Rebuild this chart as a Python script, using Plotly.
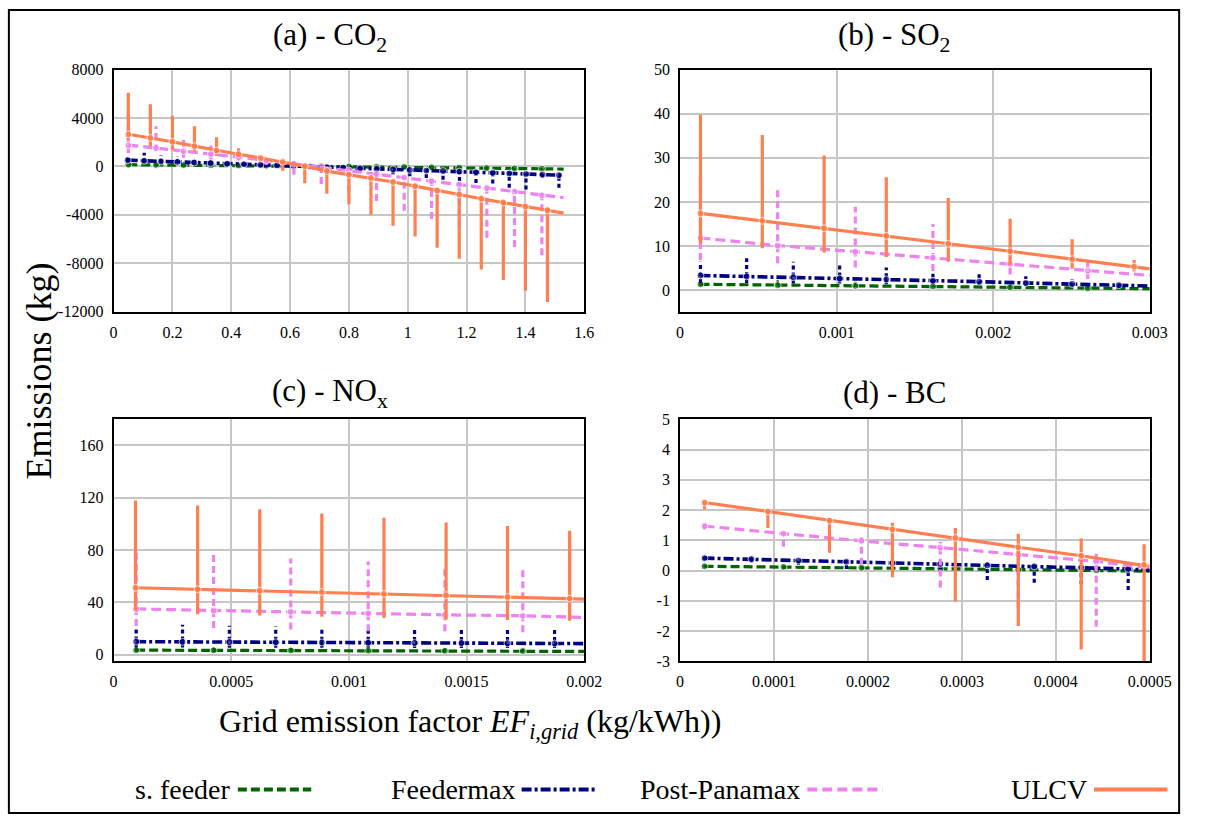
import plotly.graph_objects as go

W, H = 1207, 825
FONT = "Liberation Serif, Times New Roman, serif"

# ---------------- data ----------------
SERIES = ["s. feeder", "Feedermax", "Post-Panamax", "ULCV"]

# (a) CO2
A_X_TICKS = [0, 0.2, 0.4, 0.6, 0.8, 1.0, 1.2, 1.4, 1.6]
A_X_LABELS = ["0", "0.2", "0.4", "0.6", "0.8", "1", "1.2", "1.4", "1.6"]
A_Y_TICKS = [-12000, -8000, -4000, 0, 4000, 8000]
A_Y_LABELS = ["-12000", "-8000", "-4000", "0", "4000", "8000"]
A_X_END = 1.53

A_SF_X = [0.05, 0.144, 0.238, 0.331, 0.425, 0.519, 0.613, 0.706, 0.8, 0.894, 0.988, 1.081, 1.175, 1.269, 1.363, 1.456]
A_SF_Y = [150, 130, 115, 100, 85, 65, 45, 25, 0, -20, -45, -70, -100, -130, -160, -190]
A_SF_HI = [280, 250, 220, 190, 160, 120, 90, 60, 40, 10, -10, -30, -60, -90, -120, -150]
A_SF_LO = [90, 80, 70, 60, 50, 30, 10, -20, -60, -100, -140, -180, -220, -260, -300, -340]
A_SF_END = -220

A_FM_X = [0.048, 0.104, 0.161, 0.217, 0.274, 0.33, 0.386, 0.443, 0.499, 0.556, 0.612, 0.668, 0.725, 0.781,
          0.838, 0.894, 0.95, 1.007, 1.063, 1.12, 1.176, 1.232, 1.289, 1.345, 1.402, 1.458, 1.514]
A_FM_Y = [520, 470, 420, 375, 325, 280, 230, 185, 135, 90, 40, -5, -55, -100, -150, -195, -245, -290, -340,
          -385, -435, -480, -530, -575, -625, -670, -720]
A_FM_HI = [870, 1140, 930, 870, 600, 500, 380, 300, 230, 160, 100, 50, 0, -50, -100, -150, -200, -250, -290,
           -340, -380, -430, -480, -520, -570, -610, -660]
A_FM_LO = [380, 330, 300, 260, 220, 180, 140, 90, 40, 0, -50, -110, -200, -300, -450, -500, -650, -800, -950,
           -1100, -1200, -1360, -1400, -1770, -1900, -950, -1770]
A_FM_END = -734

A_PP_X = [0.05, 0.144, 0.238, 0.331, 0.425, 0.519, 0.613, 0.706, 0.8, 0.894, 0.988, 1.081, 1.175, 1.269, 1.363, 1.456]
A_PP_Y = [1770, 1530, 1270, 1030, 770, 500, 230, -50, -330, -640, -930, -1210, -1490, -1790, -2090, -2380]
A_PP_HI = [4300, 3320, 2560, 1740, 1100, 700, 420, 150, -150, -450, -720, -1000, -1280, -1560, -1850, -2130]
A_PP_LO = [1100, 1280, 730, 600, 430, 150, -680, -1440, -2150, -2860, -3670, -4350, -5030, -5900, -6660, -7340]
A_PP_END = -2584

A_UL_X = [0.05, 0.125, 0.2, 0.275, 0.35, 0.425, 0.5, 0.575, 0.65, 0.725, 0.8, 0.875, 0.95, 1.025, 1.1, 1.175,
          1.25, 1.325, 1.4, 1.475]
A_UL_Y = [2660, 2360, 2040, 1680, 1320, 1010, 700, 390, 20, -380, -680, -950, -1280, -1630, -1990, -2310,
          -2670, -2990, -3320, -3620]
A_UL_HI = [6090, 5140, 4190, 3320, 2420, 1500, 870, 520, 270, -100, -400, -700, -1030, -1380, -1740, -2060,
           -2420, -2740, -3070, -3370]
A_UL_LO = [2230, 1690, 1410, 1280, 870, 700, 400, -350, -1390, -2260, -3130, -4000, -4900, -5790, -6720, -7620,
           -8510, -9380, -10280, -11210]
A_UL_END = -3860

# (b) SO2
B_X_TICKS = [0, 0.001, 0.002, 0.003]
B_X_LABELS = ["0", "0.001", "0.002", "0.003"]
B_Y_TICKS = [0, 10, 20, 30, 40, 50]
B_Y_LABELS = ["0", "10", "20", "30", "40", "50"]
B_X_END = 0.003

B_SF_X = [0.00013, 0.000623, 0.001119, 0.001615, 0.002108, 0.002604]
B_SF_Y = [1.3, 1.1, 0.95, 0.8, 0.6, 0.4]
B_SF_HI = [2.3, 2.2, 1.9, 1.6, 1.3, 1.0]
B_SF_LO = [0.9, 0.8, 0.7, 0.5, 0.3, 0.2]
B_SF_END = 0.3

B_FM_X = [0.00013, 0.000425, 0.000723, 0.001019, 0.001317, 0.001615, 0.00191, 0.002208, 0.002504, 0.002802]
B_FM_Y = [3.3, 3.1, 2.9, 2.6, 2.4, 2.1, 1.9, 1.6, 1.4, 1.1]
B_FM_HI = [6.4, 7.2, 6.4, 5.9, 5.1, 4.2, 3.9, 3.1, 2.4, 1.6]
B_FM_LO = [1.6, 1.6, 1.5, 1.5, 1.3, 1.2, 1.1, 0.9, 0.7, 0.4]
B_FM_END = 0.9

B_PP_X = [0.00013, 0.000623, 0.001119, 0.001615, 0.002108, 0.002604]
B_PP_Y = [11.8, 10.1, 8.7, 7.3, 5.9, 4.4]
B_PP_HI = [26.8, 22.7, 18.9, 15.0, 11.0, 6.8]
B_PP_LO = [6.8, 6.1, 5.1, 4.3, 3.5, 2.5]
B_PP_END = 3.3

B_UL_X = [0.00013, 0.000525, 0.00092, 0.001317, 0.001713, 0.002108, 0.002504, 0.0029]
B_UL_Y = [17.4, 15.7, 14.0, 12.3, 10.5, 8.8, 7.0, 5.3]
B_UL_HI = [39.8, 35.2, 30.5, 25.6, 20.9, 16.2, 11.5, 6.8]
B_UL_LO = [10.5, 9.5, 8.5, 7.5, 6.4, 5.7, 4.8, 4.2]
B_UL_END = 4.8

# (c) NOx
C_X_TICKS = [0, 0.0005, 0.001, 0.0015, 0.002]
C_X_LABELS = ["0", "0.0005", "0.001", "0.0015", "0.002"]
C_Y_TICKS = [0, 40, 80, 120, 160]
C_Y_LABELS = ["0", "40", "80", "120", "160"]
C_X_END = 0.002

C_SF_X = [0.000096, 0.000425, 0.000753, 0.001082, 0.001408, 0.001739]
C_SF_Y = [3.5, 3.4, 3.3, 3.1, 3.0, 2.8]
C_SF_HI = [5.5, 5.3, 5.2, 5.0, 4.8, 4.6]
C_SF_LO = [2.2, 2.1, 2.0, 1.9, 1.8, 1.7]
C_SF_END = 2.5

C_FM_X = [0.000096, 0.000293, 0.000492, 0.000689, 0.000885, 0.001082, 0.001279, 0.001478, 0.001674, 0.001874]
C_FM_Y = [10.0, 9.8, 9.7, 9.5, 9.4, 9.2, 9.0, 8.9, 8.7, 8.6]
C_FM_HI = [20.5, 23.0, 22.2, 21.8, 21.2, 21.0, 20.5, 20.0, 19.8, 19.2]
C_FM_LO = [5.5, 5.5, 5.4, 5.4, 5.3, 5.3, 5.2, 5.2, 5.1, 5.1]
C_FM_END = 8.5

C_PP_X = [0.000096, 0.000425, 0.000753, 0.001082, 0.001408, 0.001739]
C_PP_Y = [35.0, 33.8, 33.0, 31.8, 30.5, 29.8]
C_PP_HI = [80.0, 76.8, 73.5, 71.2, 68.0, 65.5]
C_PP_LO = [22.0, 20.5, 19.2, 18.0, 18.0, 17.2]
C_PP_END = 28.5

C_UL_X = [0.000093, 0.000357, 0.000621, 0.000885, 0.001149, 0.001413, 0.001674, 0.001938]
C_UL_Y = [51.2, 50.0, 49.0, 48.0, 46.5, 45.5, 44.2, 43.0]
C_UL_HI = [118.0, 114.2, 111.2, 108.0, 104.8, 101.2, 98.5, 94.8]
C_UL_LO = [34.0, 31.0, 30.0, 29.0, 28.0, 27.0, 26.5, 26.0]
C_UL_END = 42.5

# (d) BC
D_X_TICKS = [0, 0.0001, 0.0002, 0.0003, 0.0004, 0.0005]
D_X_LABELS = ["0", "0.0001", "0.0002", "0.0003", "0.0004", "0.0005"]
D_Y_TICKS = [-3, -2, -1, 0, 1, 2, 3, 4, 5]
D_Y_LABELS = ["-3", "-2", "-1", "0", "1", "2", "3", "4", "5"]
D_X_END = 0.0005

D_SF_X = [0.000026, 0.00011, 0.000193, 0.000277, 0.00036, 0.000443]
D_SF_Y = [0.14, 0.12, 0.09, 0.06, 0.03, 0.01]
D_SF_HI = [0.18, 0.16, 0.13, 0.10, 0.08, 0.06]
D_SF_LO = [0.10, 0.08, 0.05, 0.02, -0.02, -0.05]
D_SF_END = -0.02

D_FM_X = [0.000026, 0.000076, 0.000126, 0.000177, 0.000226, 0.000277, 0.000327, 0.000377, 0.000427, 0.000477]
D_FM_Y = [0.41, 0.38, 0.33, 0.29, 0.25, 0.22, 0.17, 0.14, 0.10, 0.05]
D_FM_HI = [0.46, 0.42, 0.38, 0.33, 0.30, 0.27, 0.30, 0.25, 0.20, 0.15]
D_FM_LO = [0.36, 0.27, 0.19, 0.05, 0.10, -0.02, -0.31, -0.40, -0.45, -0.64]
D_FM_END = 0.01

D_PP_X = [0.000026, 0.00011, 0.000193, 0.000277, 0.00036, 0.000443]
D_PP_Y = [1.47, 1.22, 0.98, 0.76, 0.52, 0.30]
D_PP_HI = [1.54, 1.27, 1.11, 0.95, 0.70, 0.68]
D_PP_LO = [1.35, 0.79, 0.19, -0.56, -1.26, -1.86]
D_PP_END = 0.09

D_UL_X = [0.000026, 0.0000934, 0.000159, 0.000226, 0.000293, 0.00036, 0.000427, 0.000494]
D_UL_Y = [2.25, 1.95, 1.65, 1.36, 1.08, 0.77, 0.49, 0.19]
D_UL_HI = [2.32, 2.03, 1.75, 1.58, 1.41, 1.22, 1.06, 0.87]
D_UL_LO = [2.03, 1.41, 0.59, -0.22, -1.02, -1.83, -2.61, -3.3]
D_UL_END = 0.14

# ---------------- styles ----------------
STYLE = {
    "s. feeder": dict(color="#006400", dash="9px,4px", width=3.2, bar_dash="solid", bar_width=2.5),
    "Feedermax": dict(color="#000080", dash="10px,3px,3px,3px", width=3.6, bar_dash="4px,3px", bar_width=3.2),
    "Post-Panamax": dict(color="#EE82EE", dash="10px,5px", width=3.2, bar_dash="7px,4px", bar_width=3.2),
    "ULCV": dict(color="#FF7F50", dash="solid", width=3.2, bar_dash="solid", bar_width=3.2),
}

PANELS = [
    dict(title="(a) - CO<sub>2</sub>", xr=[0, 1.6], yr=[-12000, 8000],
         xt=A_X_TICKS, xl=A_X_LABELS, yt=A_Y_TICKS, yl=A_Y_LABELS, xend=A_X_END,
         series=[(A_SF_X, A_SF_Y, A_SF_HI, A_SF_LO, A_SF_END), (A_FM_X, A_FM_Y, A_FM_HI, A_FM_LO, A_FM_END),
                 (A_PP_X, A_PP_Y, A_PP_HI, A_PP_LO, A_PP_END), (A_UL_X, A_UL_Y, A_UL_HI, A_UL_LO, A_UL_END)],
         box=(112, 593, 63, 310), tpos=(333, 30)),
    dict(title="(b) - SO<sub>2</sub>", xr=[0, 0.003], yr=[-4.9, 50],
         xt=B_X_TICKS, xl=B_X_LABELS, yt=B_Y_TICKS, yl=B_Y_LABELS, xend=B_X_END,
         series=[(B_SF_X, B_SF_Y, B_SF_HI, B_SF_LO, B_SF_END), (B_FM_X, B_FM_Y, B_FM_HI, B_FM_LO, B_FM_END),
                 (B_PP_X, B_PP_Y, B_PP_HI, B_PP_LO, B_PP_END), (B_UL_X, B_UL_Y, B_UL_HI, B_UL_LO, B_UL_END)],
         box=(691, 1171, 63, 310), tpos=(910, 30)),
    dict(title="(c) - NO<sub>x</sub>", xr=[0, 0.002], yr=[-5, 180],
         xt=C_X_TICKS, xl=C_X_LABELS, yt=C_Y_TICKS, yl=C_Y_LABELS, xend=C_X_END,
         series=[(C_SF_X, C_SF_Y, C_SF_HI, C_SF_LO, C_SF_END), (C_FM_X, C_FM_Y, C_FM_HI, C_FM_LO, C_FM_END),
                 (C_PP_X, C_PP_Y, C_PP_HI, C_PP_LO, C_PP_END), (C_UL_X, C_UL_Y, C_UL_HI, C_UL_LO, C_UL_END)],
         box=(112, 593, 420, 667), tpos=(333, 393)),
    dict(title="(d) - BC", xr=[0, 0.0005], yr=[-3, 5],
         xt=D_X_TICKS, xl=D_X_LABELS, yt=D_Y_TICKS, yl=D_Y_LABELS, xend=D_X_END,
         series=[(D_SF_X, D_SF_Y, D_SF_HI, D_SF_LO, D_SF_END), (D_FM_X, D_FM_Y, D_FM_HI, D_FM_LO, D_FM_END),
                 (D_PP_X, D_PP_Y, D_PP_HI, D_PP_LO, D_PP_END), (D_UL_X, D_UL_Y, D_UL_HI, D_UL_LO, D_UL_END)],
         box=(691, 1171, 420, 667), tpos=(910, 393)),
]


def fx(p):
    return p / W


def fy(p):
    return 1 - p / H


fig = go.Figure()
layout = dict(
    width=W, height=H, margin=dict(l=0, r=0, t=0, b=0),
    paper_bgcolor="white", plot_bgcolor="white", showlegend=False,
    font=dict(family=FONT, color="black"),
)
annotations = []
shapes = []

for i, p in enumerate(PANELS):
    sfx = "" if i == 0 else str(i + 1)
    xa, ya = "x" + sfx, "y" + sfx
    for name, (xs, ys, hi, lo, yend) in zip(SERIES, p["series"]):
        st = STYLE[name]
        bx, by = [], []
        for x, h, l in zip(xs, hi, lo):
            bx += [x, x, None]
            by += [l, h, None]
        fig.add_trace(go.Scatter(x=bx, y=by, mode="lines", xaxis=xa, yaxis=ya, hoverinfo="skip",
                                 line=dict(color=st["color"], width=st["bar_width"], dash=st["bar_dash"]),
                                 name=name, showlegend=False, cliponaxis=True))
        fig.add_trace(go.Scatter(x=list(xs) + [p["xend"]], y=list(ys) + [yend], mode="lines+markers",
                                 xaxis=xa, yaxis=ya, name=name, showlegend=False,
                                 line=dict(color=st["color"], width=st["width"], dash=st["dash"]),
                                 marker=dict(color=st["color"], size=[7] * len(xs) + [0], symbol="circle")))
    x0, x1, y0, y1 = p["box"]
    common = dict(showline=True, mirror=True, linecolor="black", linewidth=2, showgrid=True,
                  gridcolor="#c6c6c6", gridwidth=1.5, zeroline=False, ticks="outside", ticklen=5,
                  tickcolor="rgba(0,0,0,0)", tickfont=dict(family=FONT, size=16, color="black"),
                  tickmode="array", fixedrange=True)
    layout["xaxis" + sfx] = dict(common, domain=[fx(x0), fx(x1)], range=p["xr"], anchor=ya,
                                 tickvals=p["xt"], ticktext=p["xl"])
    layout["yaxis" + sfx] = dict(common, domain=[fy(y1), fy(y0)], range=p["yr"], anchor=xa,
                                 tickvals=p["yt"], ticktext=p["yl"])
    annotations.append(dict(text=p["title"], x=fx(p["tpos"][0]), y=fy(p["tpos"][1]), xref="paper", yref="paper",
                            showarrow=False, xanchor="center", yanchor="middle",
                            font=dict(family=FONT, size=31, color="black")))

# axis titles
annotations.append(dict(text="Grid emission factor <i>EF</i><sub><i>i,grid</i></sub> (kg/kWh))",
                        x=fx(476), y=fy(731), xref="paper", yref="paper", showarrow=False,
                        xanchor="center", yanchor="middle", font=dict(family=FONT, size=32, color="black")))
annotations.append(dict(text="Emissions (kg)", x=fx(36), y=fy(371), xref="paper", yref="paper",
                        showarrow=False, textangle=-90, xanchor="center", yanchor="middle",
                        font=dict(family=FONT, size=36, color="black")))

# legend (text followed by line sample, as in the original)
LEG_SAMPLE = [(239, 314), (529, 605), (821, 898), (1114, 1189)]
for name, (s0, s1) in zip(SERIES, LEG_SAMPLE):
    st = STYLE[name]
    annotations.append(dict(text=name, x=fx(s0 - 5), y=fy(798), xref="paper", yref="paper", showarrow=False,
                            xanchor="right", yanchor="middle", font=dict(family=FONT, size=28, color="black")))
    shapes.append(dict(type="line", xref="paper", yref="paper", x0=fx(s0), x1=fx(s1), y0=fy(798), y1=fy(798),
                       line=dict(color=st["color"], width=4, dash=st["dash"])))

# outer frame
shapes.append(dict(type="rect", xref="paper", yref="paper", x0=fx(5), x1=fx(1201), y0=fy(822), y1=fy(2),
                   line=dict(color="black", width=2), fillcolor="rgba(0,0,0,0)", layer="below"))

layout["annotations"] = annotations
layout["shapes"] = shapes
fig.update_layout(**layout)
fig.write_html("out.html", config={"displayModeBar": False},
               post_script="document.body.style.margin='0px';document.body.style.overflow='hidden';")
